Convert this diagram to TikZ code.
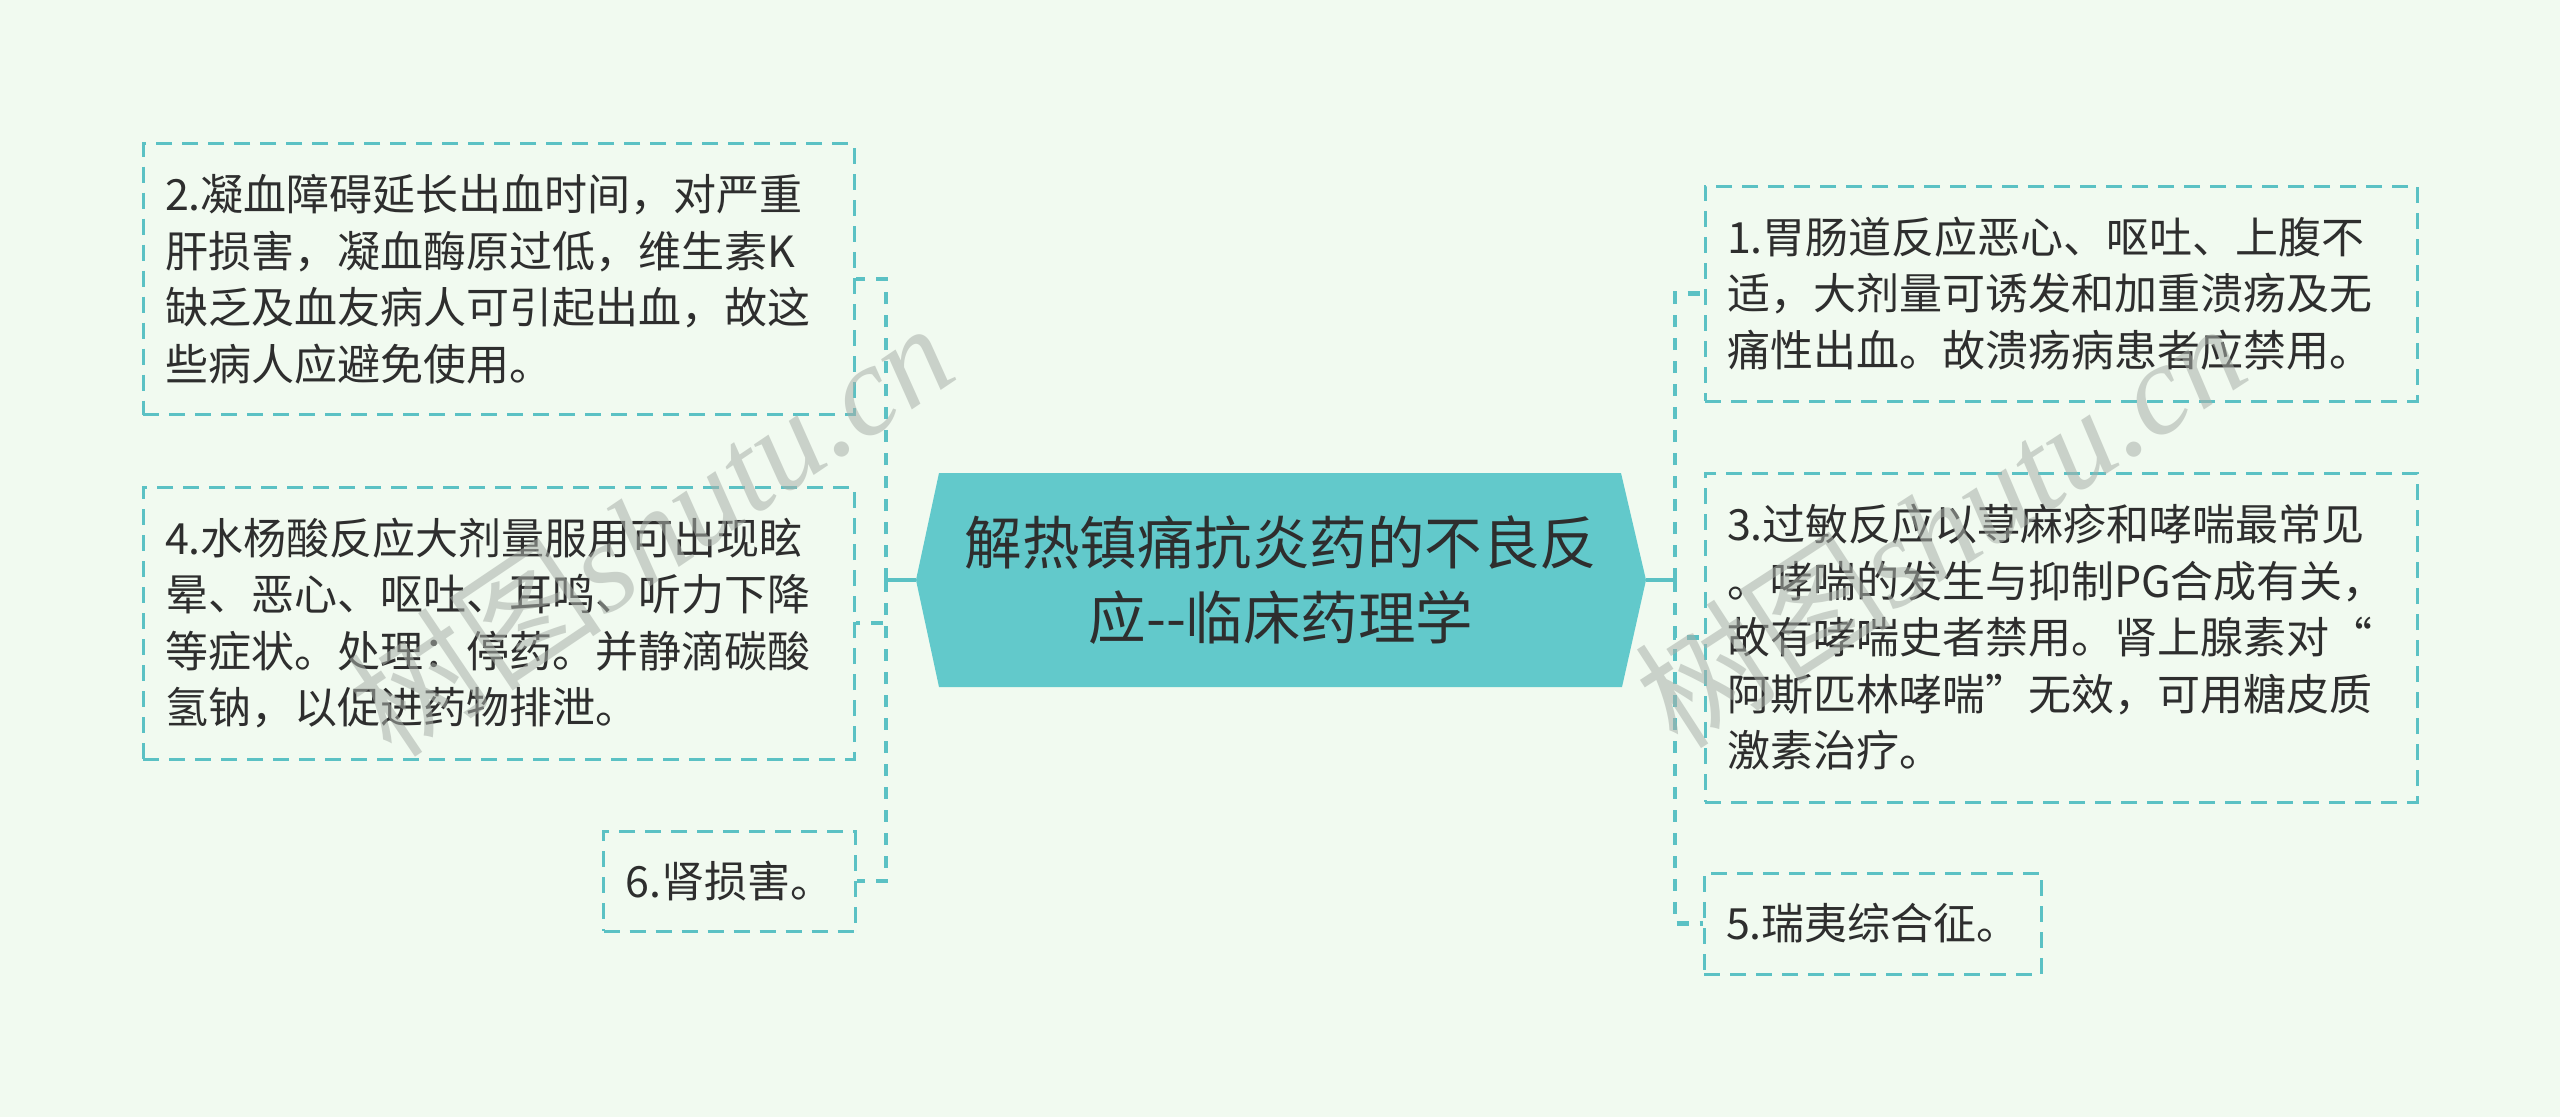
\documentclass[tikz,border=0pt]{standalone}
\usepackage{fontspec}
\setmainfont{Noto Sans CJK SC}
\newfontfamily\wmlatin{Liberation Serif}
\definecolor{bgc}{HTML}{F1FAF0}
\definecolor{tealc}{HTML}{62C9CB}
\definecolor{linec}{HTML}{5BC1C4}
\definecolor{txtc}{HTML}{2E2E2E}
\definecolor{wmc}{HTML}{A9B0A9}
\begin{document}
\begin{tikzpicture}[x=1pt,y=-1pt,
  box/.style={draw=linec, line width=3pt, dash pattern=on 16pt off 10pt,
    text=txtc, font=\fontsize{43}{56.5}\selectfont, inner xsep=22pt, inner ysep=0pt, align=left},
  conn/.style={draw=linec, line width=4.5pt, dash pattern=on 12pt off 11pt},
  solidc/.style={draw=linec, line width=4.5pt},
  wm/.style={text=wmc, opacity=0.55, font=\fontsize{128}{140}\selectfont, inner sep=0pt}]
\useasboundingbox (0,0) rectangle (2560,1117);
\fill[bgc] (0,0) rectangle (2560,1117);
% centre shape
\coordinate (p1) at (939,473);
\coordinate (p2) at (1621,473);
\coordinate (p3) at (1646,580);
\coordinate (p4) at (1622,687);
\coordinate (p5) at (939,687);
\coordinate (p6) at (916,580);
\fill[tealc] (p1) -- (p2) -- (p3) -- (p4) -- (p5) -- (p6) -- cycle;
\node[font=\fontsize{57.5}{75}\selectfont, text=txtc, align=center, minimum width=730pt,
  minimum height=214pt, inner sep=0pt] (c) at (1281,580)
  {解热镇痛抗炎药的不良反\\应-\kern0pt-临床药理学};
% left boxes
\node[box, minimum width=711pt, minimum height=271pt, text width=667pt] (b2) at (498.5,279)
  {2.凝血障碍延长出血时间，对严重\\肝损害，凝血酶原过低，维生素K\\缺乏及血友病人可引起出血，故这\\些病人应避免使用。};
\node[box, minimum width=711pt, minimum height=272pt, text width=667pt] (b4) at (498.5,623)
  {4.水杨酸反应大剂量服用可出现眩\\晕、恶心、呕吐、耳鸣、听力下降\\等症状。处理：停药。并静滴碳酸\\氢钠，以促进药物排泄。};
\node[box, minimum width=249pt, minimum height=100pt] (b6) at (729.5,881) {6.肾损害。};
% right boxes
\node[box, minimum width=712pt, minimum height=215pt, text width=668pt] (b1) at (2061,293.5)
  {1.胃肠道反应恶心、呕吐、上腹不\\适，大剂量可诱发和加重溃疡及无\\痛性出血。故溃疡病患者应禁用。};
\node[box, minimum width=712pt, minimum height=329pt, text width=668pt] (b3) at (2061,637.5)
  {3.过敏反应以荨麻疹和哮喘最常见\\。哮喘的发生与抑制PG合成有关，\\故有哮喘史者禁用。肾上腺素对“\\阿斯匹林哮喘”无效，可用糖皮质\\激素治疗。};
\node[box, minimum width=336pt, minimum height=101pt] (b5) at (1873,923.5) {5.瑞夷综合征。};
% connectors
\coordinate (jl) at (886,580);
\coordinate (jr) at (1675,580);
\draw[solidc] (c.west) -- (jl);
\draw[solidc] (c.east) -- (jr);
\draw[conn] (jl) |- (b2.east);
\draw[conn] (jl) |- (b4.east);
\draw[conn] (jl) |- (b6.east);
\draw[conn] (jr) |- (b1.west);
\draw[conn] (jr) |- (b3.west);
\draw[conn] (jr) |- (b5.west);
% watermarks
\node[wm, rotate=34] (wm1) at (650,528) {树图{\wmlatin\itshape shutu.cn}};
\node[wm, rotate=33] (wm2) at (1940,524) {树图{\wmlatin\itshape shutu.cn}};
\end{tikzpicture}
\end{document}
